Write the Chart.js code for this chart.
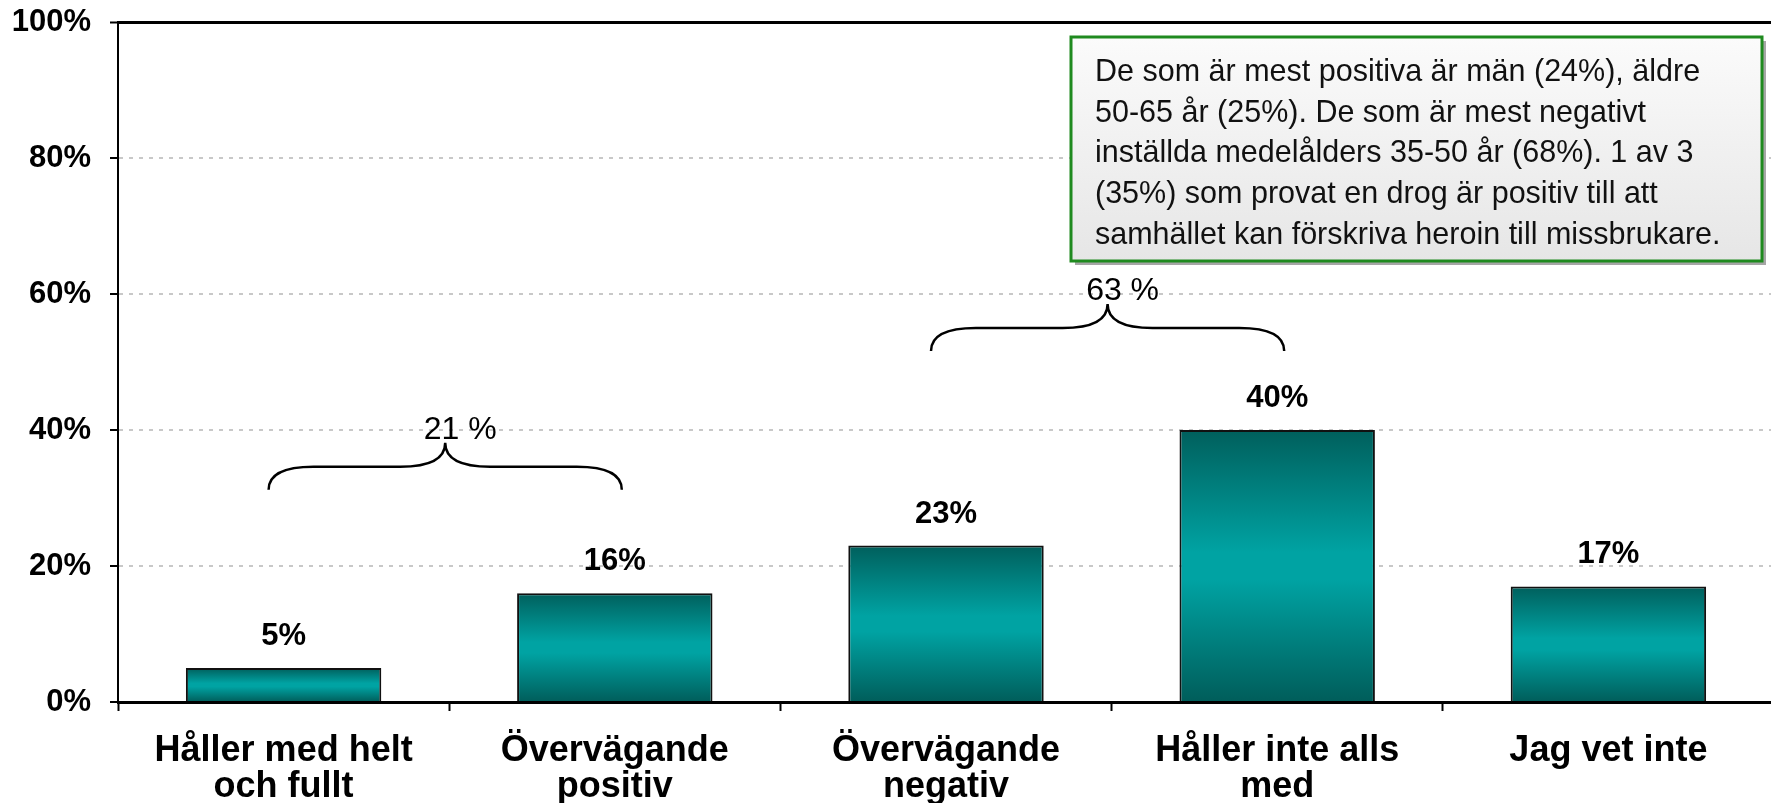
<!DOCTYPE html>
<html>
<head>
<meta charset="utf-8">
<script src="https://cdn.jsdelivr.net/npm/chart.js@4.4.0/dist/chart.umd.min.js"></script>
<style>
  html, body { margin: 0; padding: 0; background: #fff; overflow: hidden; }
  /* plot runs a few px past the right edge of the picture, like the original */
  #wrap { width: 1774px; height: 803px; position: relative; }
</style>
</head>
<body>
<div id="wrap"><canvas id="chart"></canvas></div>
<script>
// --- Data ---
const categories = [
  ["Håller med helt", "och fullt"],
  ["Övervägande", "positiv"],
  ["Övervägande", "negativ"],
  ["Håller inte alls", "med"],
  ["Jag vet inte"]
];
const values = [5, 16, 23, 40, 17];
const yTicks = [0, 20, 40, 60, 80, 100];

// grouped totals shown above the braces
const braceFrom = [0, 2];
const braceTo = [1, 3];
const braceLabels = ["21 %", "63 %"];
const braceLevel = [31.2, 51.6];   // where the brace ends sit (in % units)

const noteLines = [
  "De som är mest positiva är män (24%), äldre",
  "50-65 år (25%). De som är mest negativt",
  "inställda medelålders 35-50 år (68%). 1 av 3",
  "(35%) som provat en drog är positiv till att",
  "samhället kan förskriva heroin till missbrukare."
];

const FONT = "'Liberation Sans', Arial, sans-serif";

// --- Bar gradient (dark - light - dark, per bar) ---
function barFill(c) {
  const chart = c.chart;
  if (!chart.chartArea || c.raw == null) return "#00a3a3";
  const y = chart.scales.y;
  const top = y.getPixelForValue(c.raw);
  const bot = y.getPixelForValue(0);
  const g = chart.ctx.createLinearGradient(0, top, 0, bot);
  g.addColorStop(0, "#005f5c");
  g.addColorStop(0.45, "#00a3a3");
  g.addColorStop(0.55, "#00a3a3");
  g.addColorStop(1, "#005d5a");
  return g;
}

// --- Value labels above bars ---
const valueLabels = {
  id: "valueLabels",
  afterDatasetsDraw(chart) {
    const ctx = chart.ctx;
    const meta = chart.getDatasetMeta(0);
    ctx.save();
    ctx.font = "bold 31px " + FONT;
    ctx.fillStyle = "#000";
    ctx.textAlign = "center";
    ctx.textBaseline = "alphabetic";
    meta.data.forEach((bar, i) => {
      ctx.fillText(values[i] + "%", bar.x, bar.y - 23);
    });
    ctx.restore();
  }
};

// --- Braces + note box ---
function drawBrace(ctx, x0, x1, yEnd) {
  const tip = (x0 + x1) / 2;
  const yH = yEnd - 23;
  const yTip = yEnd - 47;
  const r = 45;
  ctx.beginPath();
  ctx.moveTo(x0, yEnd);
  ctx.quadraticCurveTo(x0, yH, x0 + r, yH);
  ctx.lineTo(tip - r, yH);
  ctx.quadraticCurveTo(tip, yH, tip, yTip);
  ctx.quadraticCurveTo(tip, yH, tip + r, yH);
  ctx.lineTo(x1 - r, yH);
  ctx.quadraticCurveTo(x1, yH, x1, yEnd);
  ctx.stroke();
  return { tip, yTip };
}

const annotations = {
  id: "annotations",
  afterDraw(chart) {
    const ctx = chart.ctx;
    const xs = chart.scales.x, ys = chart.scales.y;
    ctx.save();
    ctx.strokeStyle = "#000";
    ctx.lineWidth = 2.5;
    ctx.fillStyle = "#000";
    ctx.font = "32px " + FONT;
    ctx.textAlign = "center";
    ctx.textBaseline = "middle";
    braceFrom.forEach((f, i) => {
      const x0 = xs.getPixelForValue(f) - 15;
      const x1 = xs.getPixelForValue(braceTo[i]) + 7;
      const yEnd = ys.getPixelForValue(braceLevel[i]);
      const b = drawBrace(ctx, x0, x1, yEnd);
      ctx.fillText(braceLabels[i], b.tip + 15, b.yTip - 13);
    });

    // note box
    const bx = 1071, by = 37, bw = 691, bh = 224;
    ctx.fillStyle = "rgba(0,0,0,0.35)";
    ctx.fillRect(bx + 4, by + 4, bw, bh);
    const g = ctx.createLinearGradient(0, by, 0, by + bh);
    g.addColorStop(0, "#fbfbfb");
    g.addColorStop(1, "#e6e6e6");
    ctx.fillStyle = g;
    ctx.fillRect(bx, by, bw, bh);
    ctx.strokeStyle = "#1f8a1f";
    ctx.lineWidth = 3;
    ctx.strokeRect(bx, by, bw, bh);

    ctx.fillStyle = "#111";
    ctx.font = "30.5px " + FONT;
    ctx.textAlign = "left";
    ctx.textBaseline = "alphabetic";
    noteLines.forEach((line, i) => {
      ctx.fillText(line, bx + 24, by + 44 + i * 40.7);
    });
    ctx.restore();
  }
};

// --- Chart ---
new Chart(document.getElementById("chart"), {
  type: "bar",
  data: {
    labels: categories,
    datasets: [{
      data: values,
      backgroundColor: barFill,
      borderColor: "#111",
      borderWidth: 2,
      barPercentage: 0.59,
      categoryPercentage: 1
    }]
  },
  options: {
    responsive: true,
    maintainAspectRatio: false,
    animation: false,
    layout: { padding: { top: 22, right: 0, bottom: 0, left: 0 } },
    plugins: {
      legend: { display: false },
      tooltip: { enabled: false }
    },
    scales: {
      x: {
        offset: true,
        grid: {
          offset: true,
          drawOnChartArea: false,
          drawTicks: true,
          tickLength: 9,
          tickColor: "#000",
          tickWidth: 2
        },
        border: { color: "#000", width: 3 },
        ticks: {
          color: "#000",
          padding: 22,
          maxRotation: 0,
          autoSkip: false,
          font: { family: FONT, size: 36, weight: "bold", lineHeight: 1.0 }
        },
        afterFit(scale) { scale.height = 101; }
      },
      y: {
        min: 0,
        max: 100,
        afterBuildTicks(scale) { scale.ticks = yTicks.map(v => ({ value: v })); },
        grid: {
          color: c => c.tick.value === 100 ? "#000" : (c.tick.value === 0 ? "rgba(0,0,0,0)" : "#c8c8c8"),
          lineWidth: c => c.tick.value === 100 ? 3 : 2,
          tickBorderDash: [],
          tickColor: "#000",
          tickWidth: 2,
          tickLength: 8
        },
        border: {
          color: "#000",
          width: 2,
          dash: c => (c.type === "tick" && c.tick && c.tick.value !== 100) ? [4, 6] : []
        },
        ticks: {
          color: "#000",
          padding: 19,
          font: { family: FONT, size: 31, weight: "bold" },
          callback: v => v + "%"
        },
        afterFit(scale) {
          scale.width = 118;
          scale.paddingTop = 0;
          scale.paddingBottom = 0;
        }
      }
    }
  },
  plugins: [valueLabels, annotations]
});
</script>
</body>
</html>
